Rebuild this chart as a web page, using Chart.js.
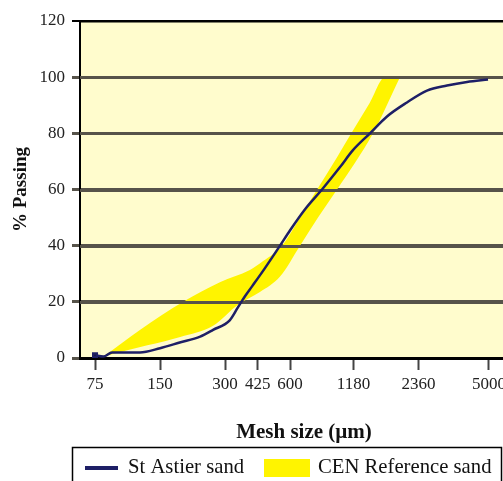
<!DOCTYPE html>
<html>
<head>
<meta charset="utf-8">
<script src="https://cdn.jsdelivr.net/npm/chart.js@4.4.1/dist/chart.umd.min.js"></script>
<style>
html, body { margin: 0; padding: 0; background: #fff; overflow: hidden; }
#wrap { position: relative; width: 528px; height: 500px; }
</style>
</head>
<body>
<div id="wrap"><canvas id="grading" width="528" height="500"></canvas></div>
<script>
// Grading curves: mesh size (um) vs % passing
const ASTIER_SIZES = [75, 82, 90, 121, 150, 185, 230, 264, 316, 344, 371, 400, 459, 539, 600, 704, 843, 1022, 1173, 1406, 1686, 2086, 2582, 3196, 3956, 4948];
const ASTIER_PASSING = [1, 0.5, 2, 2, 3.5, 5.5, 7.6, 10, 13.5, 18, 22, 25.5, 32, 40, 45.5, 53, 60, 68, 74, 80, 86, 91, 95.2, 97, 98.3, 99.2];

const CEN_UPPER_SIZES = [82, 121, 192, 284, 391, 450, 551, 667, 808, 990, 1173, 1406, 1651, 1936];
const CEN_UPPER = [0.5, 10, 20, 27, 31.3, 34.5, 40, 50, 60.5, 71.5, 81, 91, 100, 100];

const CEN_LOWER_SIZES = [82, 131, 186, 264, 344, 435, 539, 667, 808, 990, 1199, 1452, 1936];
const CEN_LOWER = [0.5, 4.5, 7.5, 11.5, 19, 23.5, 29, 40, 50, 60, 69.5, 80, 100];

const X_TICKS = [75, 150, 300, 425, 600, 1180, 2360, 5000];
const Y_MIN = 0;
const Y_MAX = 120;
const Y_STEP = 20;

const SERIES_NAMES = ['St Astier sand', 'CEN Reference sand'];

// Colours
const PLOT_BG = '#fffccd';
const BAND_COLOR = '#fff400';
const LINE_COLOR = '#1e1f66';
const GRID_COLOR = '#57534a';
const AXIS_COLOR = '#000000';

const FONT_FAMILY = '"Liberation Serif", "Times New Roman", serif';

const toPoints = (xs, ys) => xs.map((x, i) => ({ x: x, y: ys[i] }));

// Pale plot background
const plotBackground = {
    id: 'plotBackground',
    beforeDraw(chart) {
        const { ctx, chartArea: a } = chart;
        ctx.save();
        ctx.fillStyle = PLOT_BG;
        ctx.fillRect(a.left, a.top, a.right - a.left, a.bottom - a.top);
        ctx.restore();
    }
};

// Grid lines go back on top of the yellow band, under the sand curve
const gridOverBand = {
    id: 'gridOverBand',
    afterDatasetDraw(chart, args) {
        if (args.index !== 2) return;
        const { ctx, chartArea: a } = chart;
        const y = chart.scales.y;
        ctx.save();
        for (const t of y.ticks) {
            if (t.value === Y_MIN) continue;
            const py = Math.round(y.getPixelForValue(t.value)) + 0.5;
            ctx.strokeStyle = t.value === Y_MAX ? AXIS_COLOR : GRID_COLOR;
            ctx.lineWidth = t.value === Y_MAX ? 2 : 3;
            ctx.beginPath();
            ctx.moveTo(a.left, py);
            ctx.lineTo(a.right, py);
            ctx.stroke();
        }
        ctx.restore();
    }
};

// Boxed legend under the axis title
const boxedLegend = {
    id: 'boxedLegend',
    afterDraw(chart) {
        const ctx = chart.ctx;
        ctx.save();
        ctx.strokeStyle = '#000';
        ctx.lineWidth = 1.5;
        ctx.strokeRect(72.5, 447.5, 429, 60);

        ctx.strokeStyle = LINE_COLOR;
        ctx.lineWidth = 4;
        ctx.beginPath();
        ctx.moveTo(85, 468);
        ctx.lineTo(118, 468);
        ctx.stroke();

        ctx.fillStyle = BAND_COLOR;
        ctx.fillRect(264, 459, 46, 18);

        ctx.fillStyle = '#111';
        ctx.font = '20.7px ' + FONT_FAMILY;
        ctx.textBaseline = 'middle';
        ctx.fillText(SERIES_NAMES[0], 128, 468);
        ctx.fillText(SERIES_NAMES[1], 318, 468);
        ctx.restore();
    }
};

const data = {
    datasets: [
        {
            label: SERIES_NAMES[0],
            data: toPoints(ASTIER_SIZES, ASTIER_PASSING),
            borderColor: LINE_COLOR,
            borderWidth: 2.5,
            backgroundColor: '#111',
            pointStyle: 'rect',
            pointRadius: (c) => c.dataIndex === 0 ? 2.5 : 0,
            cubicInterpolationMode: 'monotone',
            fill: false
        },
        {
            label: SERIES_NAMES[1] + ' (lower)',
            data: toPoints(CEN_LOWER_SIZES, CEN_LOWER),
            borderWidth: 0,
            borderColor: BAND_COLOR,
            pointRadius: 0,
            cubicInterpolationMode: 'monotone',
            fill: false
        },
        {
            label: SERIES_NAMES[1],
            data: toPoints(CEN_UPPER_SIZES, CEN_UPPER),
            borderWidth: 0,
            borderColor: BAND_COLOR,
            backgroundColor: BAND_COLOR,
            pointRadius: 0,
            cubicInterpolationMode: 'monotone',
            fill: '-1'
        }
    ]
};

const options = {
    responsive: false,
    animation: false,
    devicePixelRatio: 1,
    layout: {
        autoPadding: false,
        padding: { top: 21, left: 0, right: 0, bottom: 0 }
    },
    plugins: {
        legend: { display: false },
        tooltip: { enabled: false }
    },
    scales: {
        x: {
            type: 'logarithmic',
            min: 63.9,
            max: 7579,
            afterFit: (scale) => {
                scale.height = 142;
                scale.paddingLeft = 0;
                scale.paddingRight = 0;
            },
            afterBuildTicks: (scale) => { scale.ticks = X_TICKS.map(v => ({ value: v })); },
            ticks: {
                autoSkip: false,
                maxRotation: 0,
                padding: 4,
                color: '#222',
                font: { family: FONT_FAMILY, size: 17 },
                callback: (value) => String(value)
            },
            grid: {
                drawOnChartArea: false,
                drawTicks: true,
                tickLength: 12,
                tickWidth: 2,
                tickColor: '#444'
            },
            border: { color: AXIS_COLOR, width: 3 },
            title: {
                display: true,
                text: 'Mesh size (µm)',
                color: '#111',
                font: { family: FONT_FAMILY, size: 21, weight: 'bold' },
                padding: { top: 0, bottom: 55 }
            }
        },
        y: {
            min: Y_MIN,
            max: Y_MAX,
            afterFit: (scale) => {
                scale.width = 80;
                scale.paddingTop = 0;
                scale.paddingBottom = 0;
            },
            ticks: {
                stepSize: Y_STEP,
                padding: 7,
                color: '#222',
                font: { family: FONT_FAMILY, size: 17 }
            },
            grid: {
                color: (c) => c.tick.value === Y_MAX ? AXIS_COLOR : GRID_COLOR,
                lineWidth: (c) => c.tick.value === Y_MAX ? 2 : 3,
                tickLength: 8
            },
            border: { color: AXIS_COLOR, width: 2 },
            title: {
                display: true,
                text: '% Passing',
                color: '#111',
                font: { family: FONT_FAMILY, size: 19, weight: 'bold' },
                padding: { top: 10, bottom: 0 }
            }
        }
    }
};

new Chart(document.getElementById('grading'), {
    type: 'line',
    data: data,
    options: options,
    plugins: [plotBackground, gridOverBand, boxedLegend]
});
</script>
</body>
</html>
